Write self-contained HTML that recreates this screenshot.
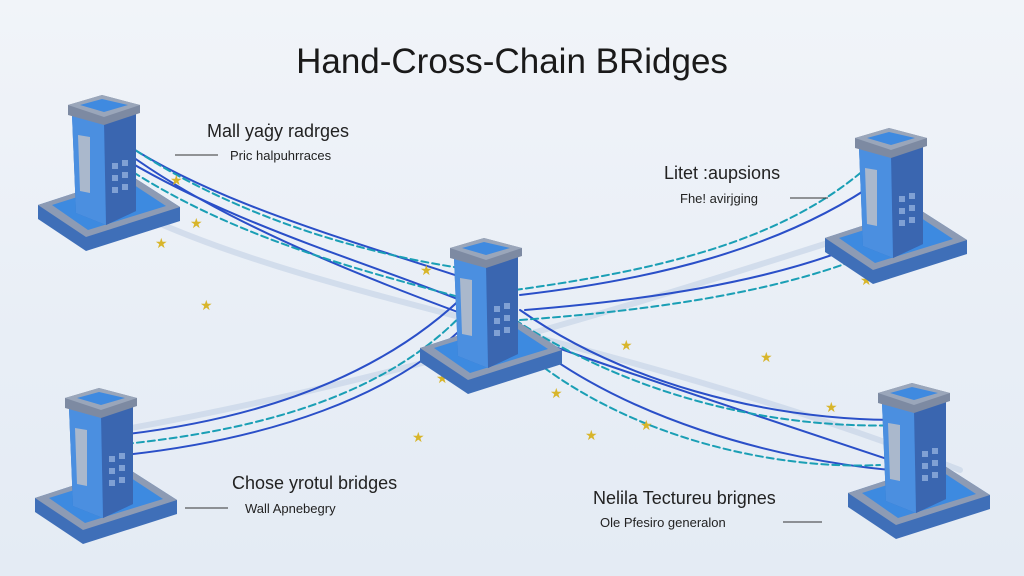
<!DOCTYPE html>
<html><head><meta charset="utf-8"><style>
html,body{margin:0;padding:0}
body{width:1024px;height:576px;overflow:hidden;background:linear-gradient(180deg,#f1f4f9 0%,#e8eef6 60%,#e4ebf4 100%);font-family:"Liberation Sans",sans-serif;position:relative}
.t{position:absolute;color:#222;white-space:nowrap}
</style></head><body>
<svg width="1024" height="576" style="position:absolute;left:0;top:0">
<defs>
<g id="srv">
 <polygon points="0,112 92,82 142,114 142,128 48,158 0,126" fill="#3f6fb8"/>
 <polygon points="0,112 92,82 142,114 48,144" fill="#8d9bb4"/>
 <polygon points="14,112 90,88 128,113 50,137" fill="#3d8ae0"/>
 <polygon points="34,22 62,12 98,20 98,118 68,132 38,120" fill="#2f6fc4"/>
 <polygon points="66,30 98,20 98,118 68,132" fill="#3a66b0"/>
 <polygon points="34,22 66,30 68,132 38,120" fill="#4b8fe0"/>
 <polygon points="30,12 64,2 102,12 102,20 66,32 30,22" fill="#7d8aa2"/>
 <polygon points="30,12 64,2 102,12 66,24" fill="#9aa6ba"/>
 <polygon points="42,12 64,6 90,12 66,19" fill="#3f8ae0"/>
 <polygon points="40,42 52,44 52,100 42,98" fill="#aab8cc"/>
 <g fill="#7fa0d4"><rect x="74" y="70" width="6" height="6"/><rect x="84" y="67" width="6" height="6"/><rect x="74" y="82" width="6" height="6"/><rect x="84" y="79" width="6" height="6"/><rect x="74" y="94" width="6" height="6"/><rect x="84" y="91" width="6" height="6"/></g>
</g>
</defs>
<g fill="none" stroke-linecap="round">
 <g stroke="#c9d6e8" stroke-width="6" opacity=".7">
  <path d="M110,200 C300,300 600,330 960,470"/>
  <path d="M120,430 C400,380 650,300 900,220"/>
 </g>
 <g stroke="#2a4fc8" stroke-width="2">
  <path d="M105,130 C200,200 350,240 470,280"/>
  <path d="M110,150 C220,220 360,260 460,300"/>
  <path d="M520,295 C650,280 780,250 880,180"/>
  <path d="M525,310 C650,300 780,280 870,240"/>
  <path d="M120,435 C250,420 380,380 470,290"/>
  <path d="M125,455 C260,440 400,400 480,310"/>
  <path d="M520,310 C620,380 760,420 900,420"/>
  <path d="M515,330 C620,420 780,460 890,470"/>
  <path d="M110,140 C250,250 500,330 890,460"/>
 </g>
 <g stroke="#1a9fb5" stroke-width="2" stroke-dasharray="7,4">
  <path d="M100,125 C210,210 360,255 475,270"/>
  <path d="M115,160 C230,240 380,275 470,300"/>
  <path d="M515,290 C660,270 790,240 875,160"/>
  <path d="M520,320 C660,310 790,290 880,250"/>
  <path d="M115,445 C270,430 400,390 475,300"/>
  <path d="M515,320 C640,400 780,430 905,425"/>
  <path d="M510,340 C620,440 780,470 880,465"/>
 </g>
</g>
<g fill="#d8b52a" font-size="14">
 <text x="155" y="248">★</text><text x="190" y="228">★</text><text x="200" y="310">★</text><text x="420" y="275">★</text>
 <text x="436" y="383">★</text><text x="550" y="398">★</text><text x="620" y="350">★</text><text x="760" y="362">★</text>
 <text x="825" y="412">★</text><text x="860" y="285">★</text><text x="412" y="442">★</text><text x="585" y="440">★</text><text x="170" y="185">★</text><text x="640" y="430">★</text>
</g>
<use href="#srv" x="38" y="93"/>
<use href="#srv" x="825" y="126"/>
<use href="#srv" x="420" y="236"/>
<use href="#srv" x="35" y="386"/>
<use href="#srv" x="848" y="381"/>
<g stroke="#333" stroke-width="1">
 <line x1="175" y1="155" x2="218" y2="155"/>
 <line x1="790" y1="198" x2="828" y2="198"/>
 <line x1="185" y1="508" x2="228" y2="508"/>
 <line x1="783" y1="522" x2="822" y2="522"/>
</g>
</svg>
<div class="t" style="left:0;width:1024px;text-align:center;top:42px;font-size:35px;color:#1a1a1a">Hand-Cross-Chain BRidges</div>
<div class="t" style="left:207px;top:121px;font-size:18px">Mall yaġy radrges</div>
<div class="t" style="left:230px;top:148px;font-size:13px">Pric halpuhrraces</div>
<div class="t" style="left:664px;top:163px;font-size:18px">Litet :aupsions</div>
<div class="t" style="left:680px;top:191px;font-size:13px">Fhe! avirjging</div>
<div class="t" style="left:232px;top:473px;font-size:18px">Chose yrotul bridges</div>
<div class="t" style="left:245px;top:501px;font-size:13px">Wall Apnebegry</div>
<div class="t" style="left:593px;top:488px;font-size:18px">Nelila Tectureu brignes</div>
<div class="t" style="left:600px;top:515px;font-size:13px">Ole Pfesiro generalon</div>
</body></html>
